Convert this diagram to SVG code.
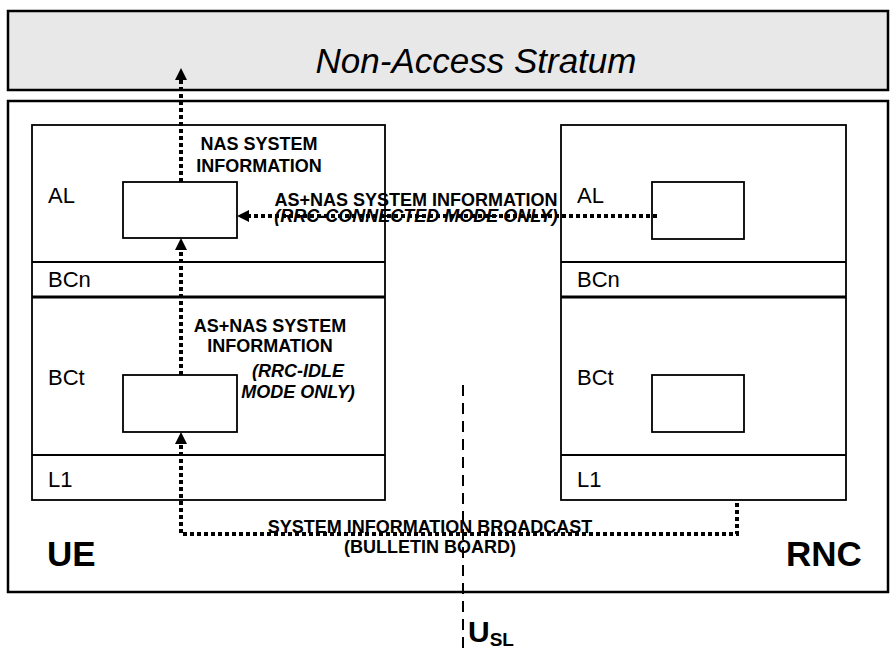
<svg xmlns="http://www.w3.org/2000/svg" width="894" height="648" viewBox="0 0 894 648">
<defs>
<marker id="ah" markerUnits="userSpaceOnUse" markerWidth="12" markerHeight="12" viewBox="0 0 12 12" refX="0" refY="6" orient="auto">
<path d="M0,0 L12,6 L0,12 z" fill="#000"/>
</marker>
<style>
.frame{fill:#fff;stroke:#000;stroke-width:2.5}
.box{fill:#fff;stroke:#000;stroke-width:1.8}
.div{stroke:#000;stroke-width:1.8}
.divb{stroke:#000;stroke-width:3}
.lbl{font-family:"Liberation Sans",Arial,sans-serif;font-size:22px;fill:#000}
.big{font-family:"Liberation Sans",Arial,sans-serif;font-size:35px;font-weight:bold;fill:#000}
.note{font-family:"Liberation Sans",Arial,sans-serif;font-size:18px;font-weight:bold;fill:#000;text-anchor:middle}
.it{font-style:italic}
.dot{fill:none;stroke:#000;stroke-width:4;stroke-dasharray:4 3}
.dash{fill:none;stroke:#000;stroke-width:2;stroke-dasharray:11 7}
</style>
</defs>
<rect width="894" height="648" fill="#fff"/>
<g id="nas">
<rect x="8" y="11" width="880" height="79" fill="#e8e8e8" stroke="#000" stroke-width="2.5"/>
<text x="476" y="73" text-anchor="middle" font-family="'Liberation Sans',Arial,sans-serif" font-size="35" font-style="italic">Non-Access Stratum</text>
</g>
<g id="access">
<rect class="frame" x="8" y="101" width="880" height="491"/>
<text class="big" x="47" y="566">UE</text>
<text class="big" x="786" y="566">RNC</text>
</g>
<g id="ue">
<rect class="box" x="32" y="125" width="353" height="375"/>
<line class="div" x1="32" y1="262" x2="385" y2="262"/>
<line class="divb" x1="32" y1="297" x2="385" y2="297"/>
<line class="div" x1="32" y1="455" x2="385" y2="455"/>
<text class="lbl" x="48" y="203">AL</text>
<text class="lbl" x="48" y="287">BCn</text>
<text class="lbl" x="48" y="385">BCt</text>
<text class="lbl" x="48" y="487">L1</text>
</g>
<g id="ue-al-entity"><rect class="box" x="123" y="182" width="114" height="56"/></g>
<g id="ue-bct-entity"><rect class="box" x="123" y="375" width="114" height="57"/></g>
<g id="rnc">
<rect class="box" x="561" y="125" width="285" height="375"/>
<line class="div" x1="561" y1="262" x2="846" y2="262"/>
<line class="divb" x1="561" y1="297" x2="846" y2="297"/>
<line class="div" x1="561" y1="455" x2="846" y2="455"/>
<text class="lbl" x="577" y="203">AL</text>
<text class="lbl" x="577" y="287">BCn</text>
<text class="lbl" x="577" y="385">BCt</text>
<text class="lbl" x="577" y="487">L1</text>
</g>
<g id="rnc-al-entity"><rect class="box" x="652" y="182" width="92" height="57"/></g>
<g id="rnc-bct-entity"><rect class="box" x="652" y="375" width="92" height="57"/></g>
<g id="connectors">
<line class="dot" x1="181" y1="182" x2="181" y2="80" marker-end="url(#ah)"/>
<line class="dot" x1="181" y1="375" x2="181" y2="250" marker-end="url(#ah)"/>
<path class="dot" d="M737,503 L737,534 L181,534 L181,444" marker-end="url(#ah)"/>
<line class="dot" x1="657" y1="216" x2="249" y2="216" marker-end="url(#ah)"/>
<line class="dash" x1="463" y1="385" x2="463" y2="648"/>
</g>
<g id="labels">
<text class="note" x="259" y="150">NAS SYSTEM</text>
<text class="note" x="259" y="172">INFORMATION</text>
<text class="note" x="416" y="206">AS+NAS SYSTEM INFORMATION</text>
<text class="note it" x="416" y="222">(RRC-CONNECTED MODE ONLY)</text>
<text class="note" x="270" y="332">AS+NAS SYSTEM</text>
<text class="note" x="270" y="352">INFORMATION</text>
<text class="note it" x="298" y="377">(RRC-IDLE</text>
<text class="note it" x="298" y="398">MODE ONLY)</text>
<text class="note" x="430" y="533">SYSTEM INFORMATION BROADCAST</text>
<text class="note" x="430" y="553" font-size="16.5">(BULLETIN BOARD)</text>
<text font-family="'Liberation Sans',Arial,sans-serif" font-size="30" font-weight="bold" x="468" y="642">U<tspan font-size="19" dy="4">SL</tspan></text>
</g>
</svg>
